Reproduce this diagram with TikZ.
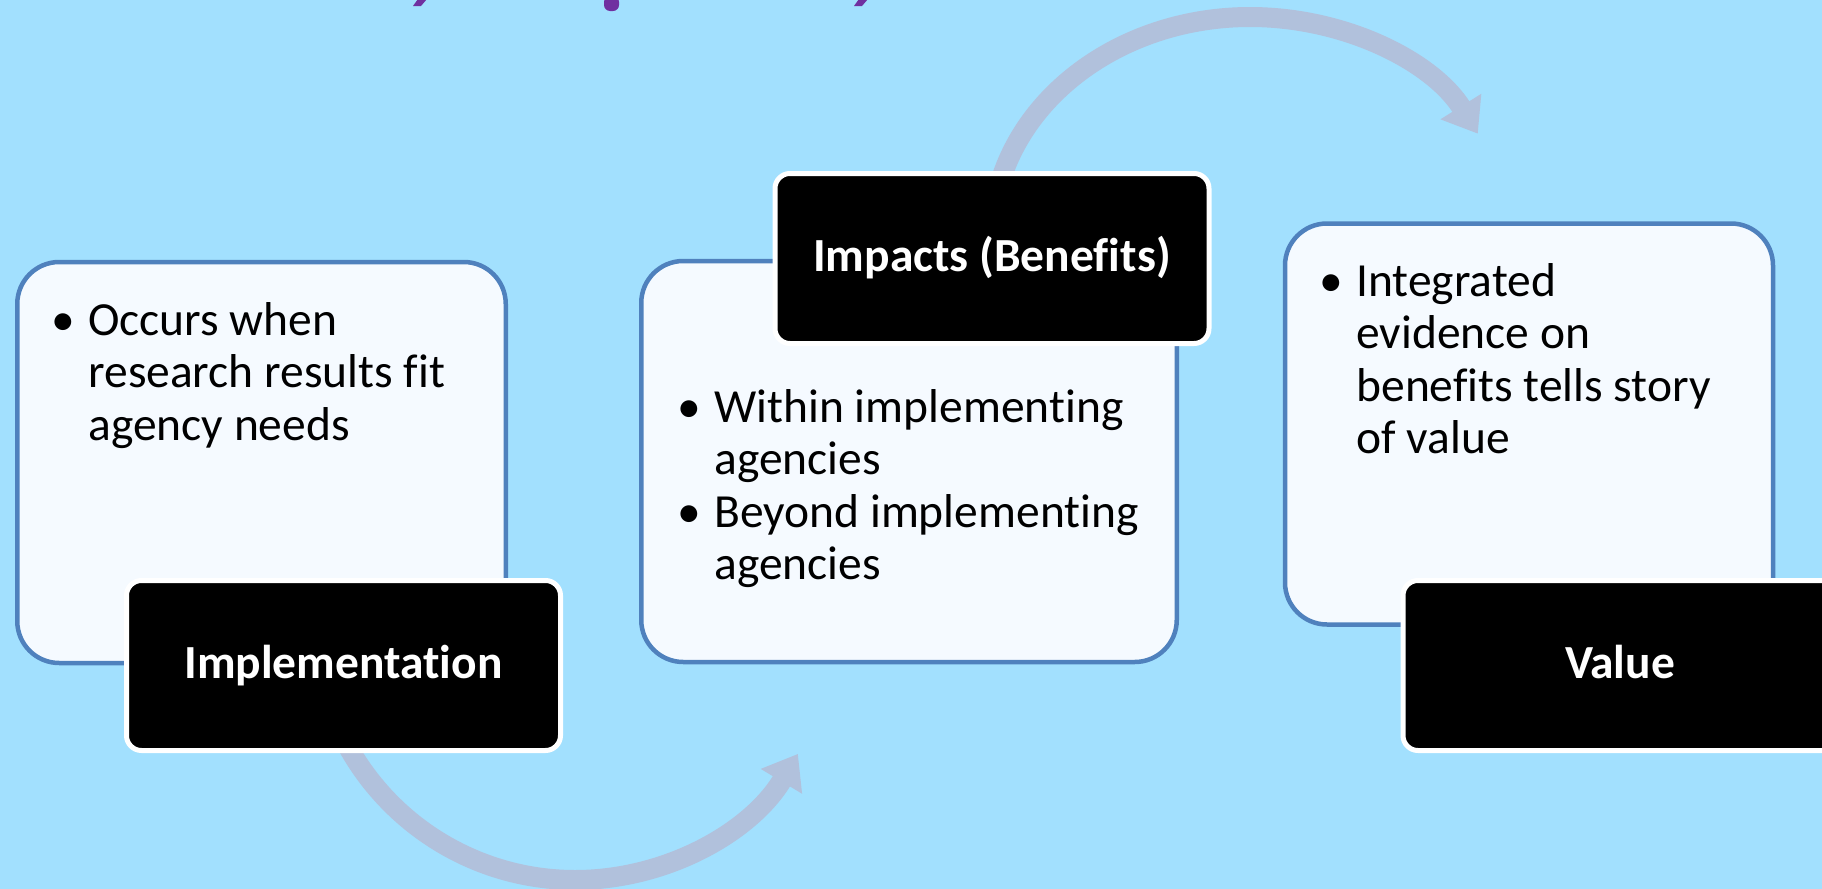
\documentclass[tikz,border=0pt]{standalone}
\usepackage{fontspec}
\setmainfont{Carlito}[Ligatures=NoCommon]
\usetikzlibrary{positioning}
\usetikzlibrary{arrows.meta}

\definecolor{slidebg}{RGB}{162,224,254}
\definecolor{boxedge}{RGB}{79,129,189}
\definecolor{boxfill}{RGB}{245,250,255}
\definecolor{arrowgrey}{RGB}{177,193,220}
\definecolor{titlepurple}{RGB}{112,48,160}

\newcommand{\bodyfont}{\fontsize{23.75pt}{26.25pt}\selectfont}
\newcommand{\labelfont}{\fontsize{23.75pt}{26.25pt}\selectfont\bfseries}
\newcommand{\bul}{\llap{\textbullet\hspace{6.6pt}}}

\begin{document}
\begin{tikzpicture}[x=0.5pt, y=-0.5pt,
  lightbox/.style={draw=boxedge, fill=boxfill, line width=2.25pt, rounded corners=21pt, minimum height=200.5pt, inner sep=0pt},
  labelbox/.style={draw=white, fill=black, text=white, line width=2.5pt, rounded corners=7.5pt, minimum width=217pt, minimum height=85pt, text height=17pt, text depth=4.5pt, inner sep=0pt, font=\labelfont},
  bodytext/.style={anchor=base west, inner sep=0pt, font=\bodyfont},
  cyclearrow/.style={draw=arrowgrey, line width=10pt, -{Triangle[length=16pt, width=23pt]}}]

  \useasboundingbox (0,0) rectangle (1822,889);
  \fill[slidebg] (0,0) rectangle (1822,889);

  % bits of the title line cut off at the top
  \fill[titlepurple] (413,6) -- (421,6) -- (427,-1) -- (418,-1) -- cycle;
  \fill[titlepurple, rounded corners=3] (604,-4) -- (604,11) -- (619,11) -- (619,-4) -- cycle;
  \fill[titlepurple] (854,6) -- (862,6) -- (868,-1) -- (859,-1) -- cycle;

  % the two curved arrows, behind the boxes
  \coordinate (botarcstart) at (339.4,729.9);
  \coordinate (botarcend) at (797.9,753.9);
  \coordinate (toparcstart) at (995.9,198.8);
  \coordinate (toparcend) at (1477.8,133.7);
  \draw[cyclearrow] (botarcstart) .. controls (382.1,821.5) and (474.0,880) .. (575,880)
    .. controls (666.3,880) and (750.9,832.1) .. (botarcend);
  \draw[cyclearrow] (toparcstart) .. controls (1017.7,93.7) and (1124.8,17) .. (1250,17)
    .. controls (1345.4,17) and (1433.0,61.9) .. (toparcend);

  % light boxes
  \node[lightbox, minimum width=244.25pt] (implbg) at (261.5,462.5) {};
  \node[lightbox, minimum width=267.75pt] (impactbg) at (909,461.5) {};
  \node[lightbox, minimum width=244pt] (valuebg) at (1529,424) {};

  % black labels
  \foreach \nm/\x/\y/\txt in {impl/343.5/665.5/Implementation, impact/992/258.5/Impacts (Benefits), value/1620/665.5/Value}
    \node[labelbox] (\nm) at (\x,\y) {\txt};

  % bullet texts
  \node[bodytext] (impltext) at (88,335) {\begin{tabular}[t]{@{}l@{}}
    \bul Occurs when\\ research results fit\\ agency needs\end{tabular}};
  \node[bodytext] (impacttext) at (714,422) {\begin{tabular}[t]{@{}l@{}}
    \bul Within implementing\\ agencies\\
    \bul Beyond implementing\\ agencies\end{tabular}};
  \node[bodytext] (valuetext) at (1356,296) {\begin{tabular}[t]{@{}l@{}}
    \bul Integrated\\ evidence on\\ benefits tells story\\ of value\end{tabular}};
\end{tikzpicture}
\end{document}
